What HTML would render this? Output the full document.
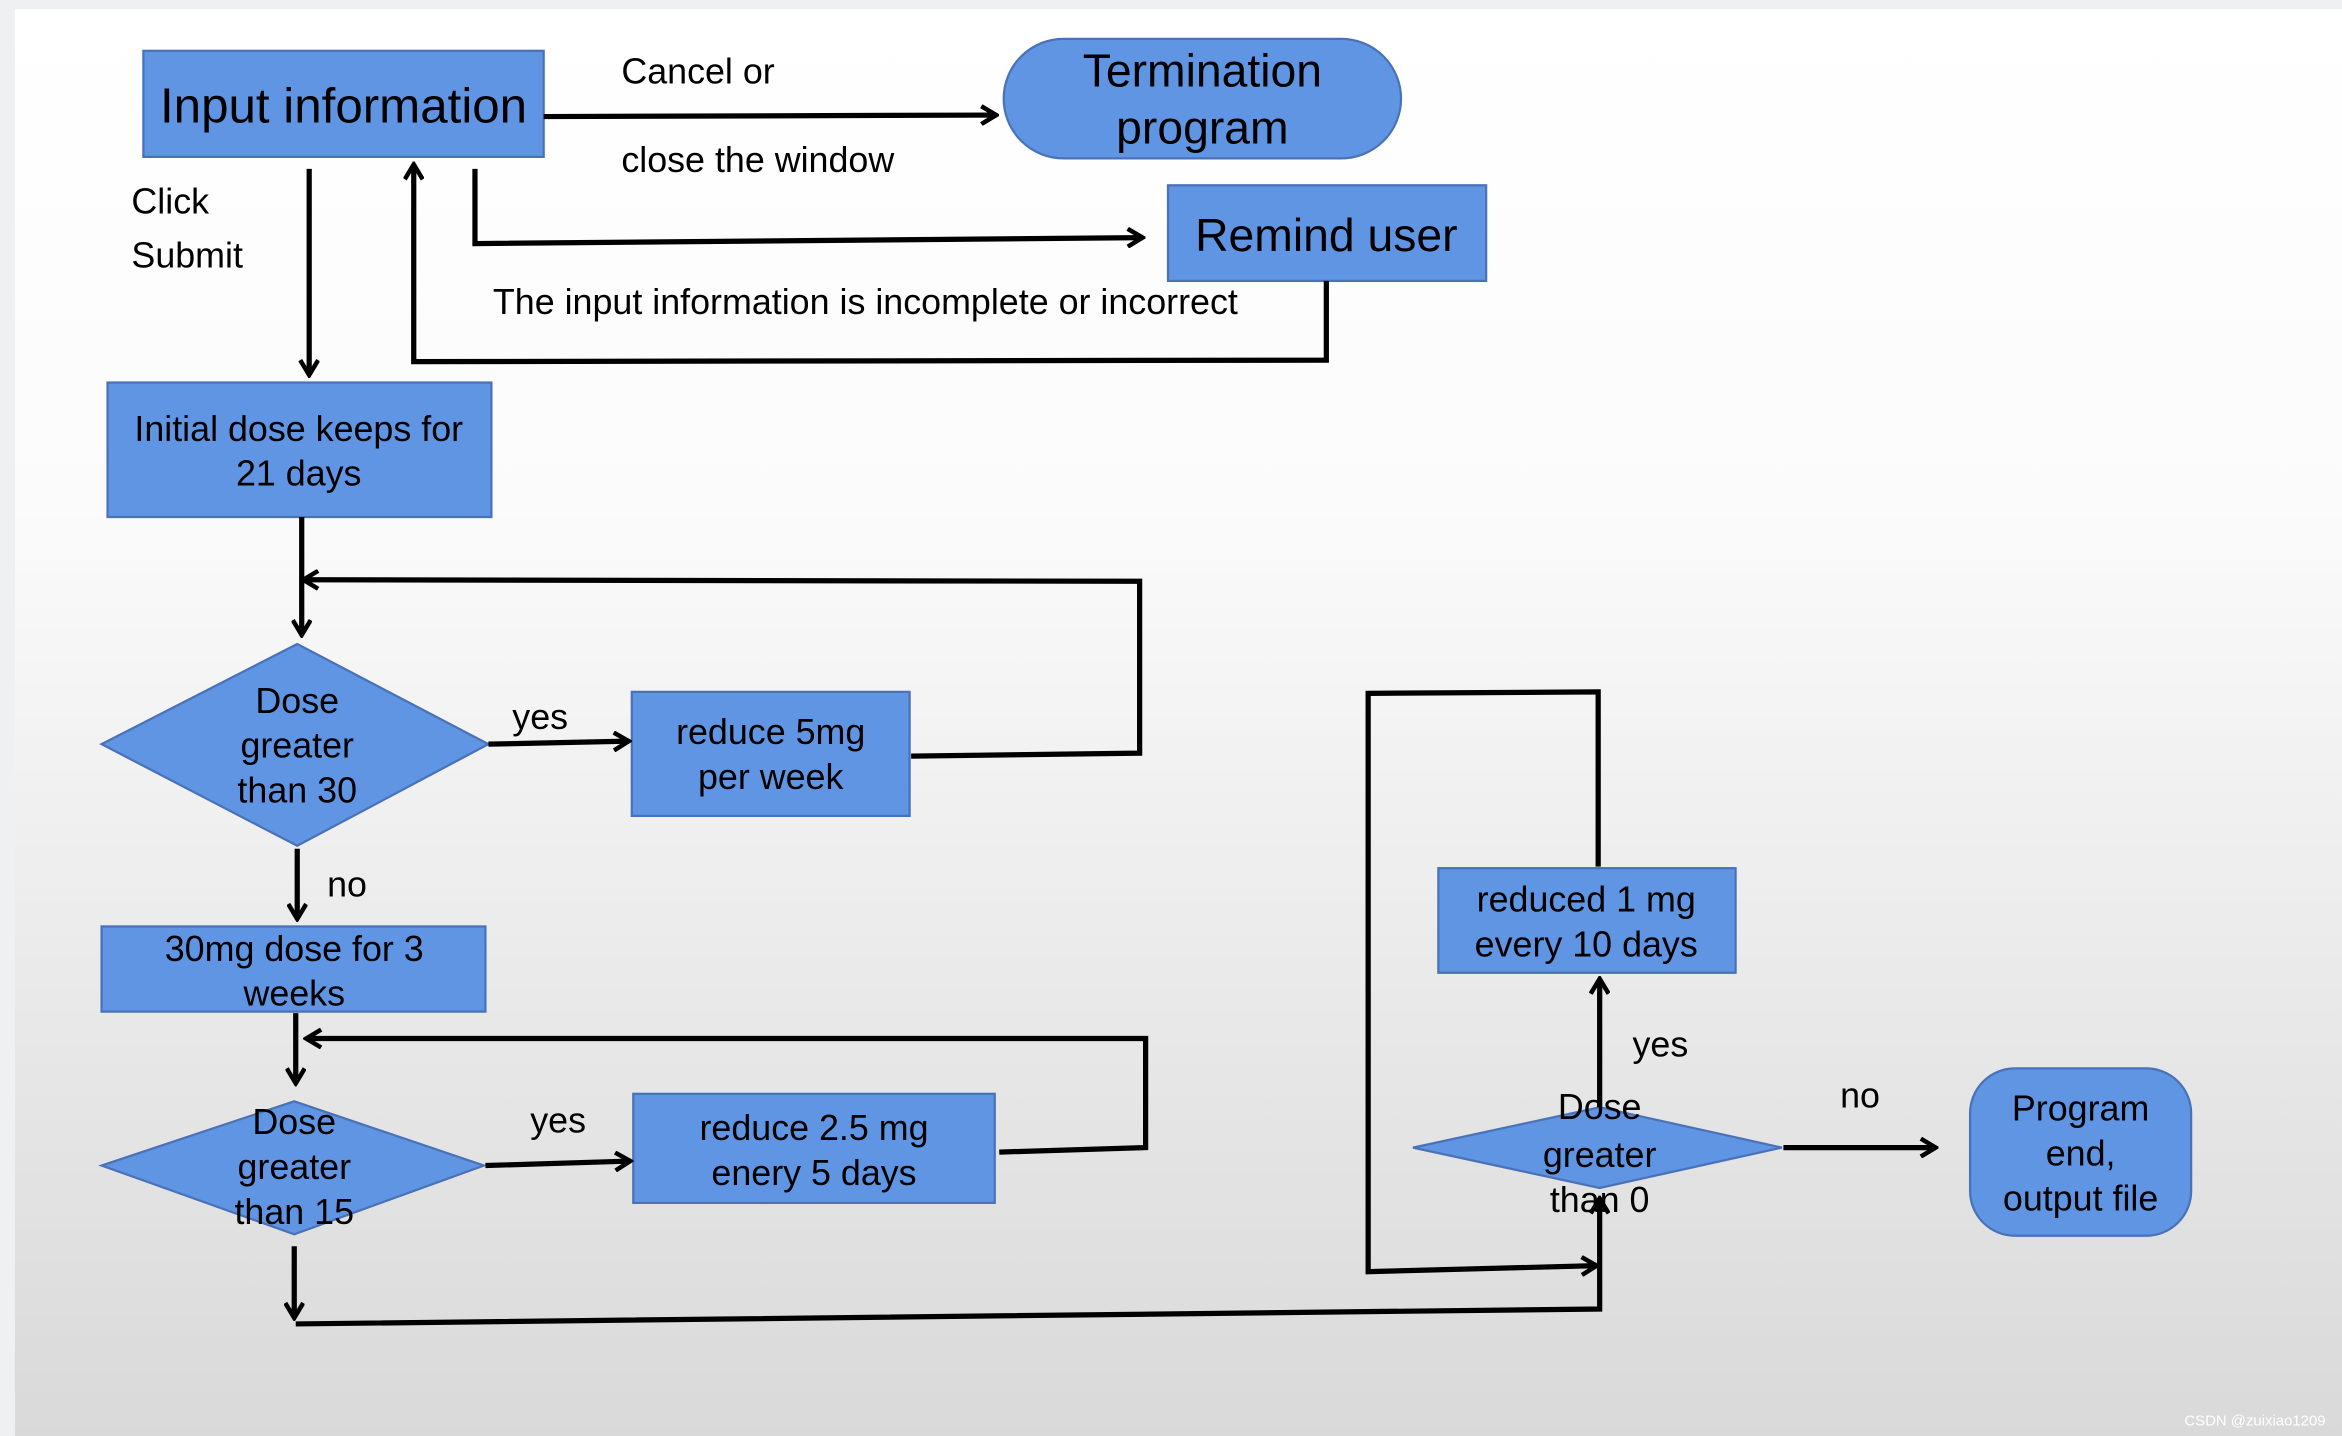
<!DOCTYPE html>
<html><head><meta charset="utf-8"><style>
html,body{margin:0;padding:0;width:2342px;height:1436px;overflow:hidden;background:#eee}
svg{display:block}
text{font-family:"Liberation Sans",Arial,sans-serif;fill:#000}
</style></head><body>
<svg width="2342" height="1436" viewBox="0 0 1568 961" preserveAspectRatio="none">
<defs>
<linearGradient id="bg" x1="0" y1="0" x2="0" y2="1">
<stop offset="0" stop-color="#ffffff"/><stop offset="0.35" stop-color="#fbfbfb"/><stop offset="1" stop-color="#d9d9d9"/>
</linearGradient>
<marker id="a" markerWidth="14" markerHeight="14" refX="12" refY="7" orient="auto" markerUnits="userSpaceOnUse">
<path d="M2,1 L12,7 L2,13" fill="none" stroke="#000" stroke-width="3"/>
</marker>
</defs>
<rect x="0" y="0" width="1568" height="961" fill="#eef0f2"/>
<rect x="10" y="6" width="1558" height="955" fill="url(#bg)"/>
<g fill="#5f95e3" stroke="#4a72b8" stroke-width="1.5">
<rect x="96" y="34" width="268" height="71"/>
<rect x="672" y="26" width="266" height="80" rx="40"/>
<rect x="782" y="124" width="213" height="64"/>
<rect x="72" y="256" width="257" height="90"/>
<polygon points="68,498 199,431 327,498 199,566"/>
<rect x="423" y="463" width="186" height="83"/>
<rect x="68" y="620" width="257" height="57"/>
<polygon points="68,780 197,737 324,780 197,826"/>
<rect x="424" y="732" width="242" height="73"/>
<rect x="963" y="581" width="199" height="70"/>
<polygon points="946,768 1071,741 1193,768 1071,795"/>
<rect x="1319" y="715" width="148" height="112" rx="30"/>
</g>
<g fill="none" stroke="#000" stroke-width="3.5">
<path d="M364,78 L667,77" marker-end="url(#a)"/>
<path d="M318,113 L318,163 L765,159" marker-end="url(#a)"/>
<path d="M888,188 L888,241 L277,242 L277,110" marker-end="url(#a)"/>
<path d="M207,113 L207,251" marker-end="url(#a)"/>
<path d="M202,346 L202,425" marker-end="url(#a)"/>
<path d="M610,506 L763,504 L763,389 L203,388" marker-end="url(#a)"/>
<path d="M327,498 L421,496" marker-end="url(#a)"/>
<path d="M199,568 L199,615" marker-end="url(#a)"/>
<path d="M198,678 L198,725" marker-end="url(#a)"/>
<path d="M669,771 L767,768 L767,695 L205,695" marker-end="url(#a)"/>
<path d="M325,780 L422,777" marker-end="url(#a)"/>
<path d="M197,834 L197,882"  marker-end="url(#a)"/>
<path d="M198,886 L1071,876 L1071,802" marker-end="url(#a)"/>
<path d="M1071,741 L1071,655" marker-end="url(#a)"/>
<path d="M1070,580 L1070,463 L916,464 L916,851 L1069,847" marker-end="url(#a)"/>
<path d="M1194,768 L1296,768" marker-end="url(#a)"/>
</g>
<g font-size="24">
<text x="230" y="82" text-anchor="middle" font-size="33">Input information</text>
<text x="805" y="58" text-anchor="middle" font-size="31">Termination</text>
<text x="805" y="96" text-anchor="middle" font-size="31">program</text>
<text x="888" y="168" text-anchor="middle" font-size="31">Remind user</text>
<text x="416" y="56">Cancel or</text>
<text x="416" y="115">close the window</text>
<text x="88" y="143">Click</text>
<text x="88" y="179">Submit</text>
<text x="330" y="210">The input information is incomplete or incorrect</text>
<text x="200" y="295" text-anchor="middle">Initial dose keeps for</text>
<text x="200" y="325" text-anchor="middle">21 days</text>
<text x="199" y="477" text-anchor="middle">Dose</text>
<text x="199" y="507" text-anchor="middle">greater</text>
<text x="199" y="537" text-anchor="middle">than 30</text>
<text x="343" y="488">yes</text>
<text x="516" y="498" text-anchor="middle">reduce 5mg</text>
<text x="516" y="528" text-anchor="middle">per week</text>
<text x="219" y="600">no</text>
<text x="197" y="643" text-anchor="middle">30mg dose for 3</text>
<text x="197" y="673" text-anchor="middle">weeks</text>
<text x="197" y="759" text-anchor="middle">Dose</text>
<text x="197" y="789" text-anchor="middle">greater</text>
<text x="197" y="819" text-anchor="middle">than 15</text>
<text x="355" y="758">yes</text>
<text x="545" y="763" text-anchor="middle">reduce 2.5 mg</text>
<text x="545" y="793" text-anchor="middle">enery 5 days</text>
<text x="1062" y="610" text-anchor="middle">reduced 1 mg</text>
<text x="1062" y="640" text-anchor="middle">every 10 days</text>
<text x="1093" y="707">yes</text>
<text x="1232" y="741">no</text>
<text x="1071" y="749" text-anchor="middle">Dose</text>
<text x="1071" y="781" text-anchor="middle">greater</text>
<text x="1071" y="811" text-anchor="middle">than 0</text>
<text x="1393" y="750" text-anchor="middle">Program</text>
<text x="1393" y="780" text-anchor="middle">end,</text>
<text x="1393" y="810" text-anchor="middle">output file</text>
<text x="1557" y="954" text-anchor="end" font-size="10" fill="#ffffff" style="fill:#fff">CSDN @zuixiao1209</text>
</g>
</svg>
</body></html>
